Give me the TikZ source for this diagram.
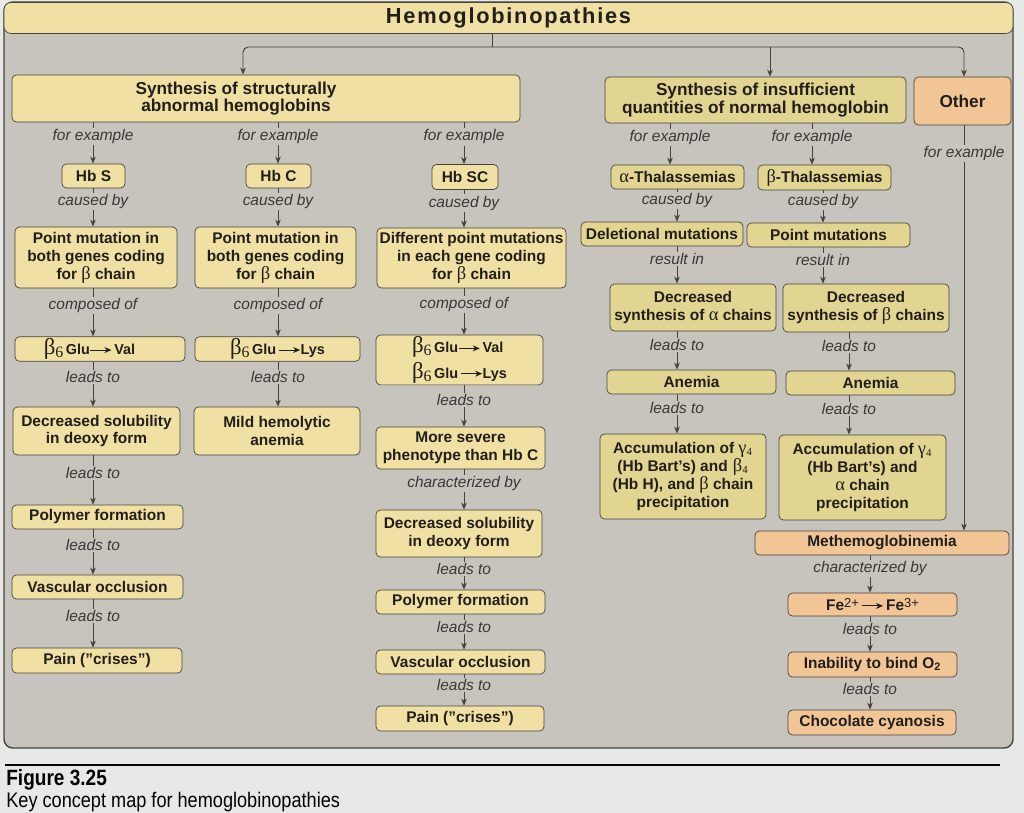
\documentclass[tikz,border=0pt]{standalone}
\usepackage{fontspec}
\setmainfont{Liberation Sans}
\newfontfamily\grk{Liberation Serif}
\newfontfamily\titlefont[LetterSpace=8]{Liberation Sans}
\newfontfamily\capfont[FakeStretch=0.86]{Liberation Sans}
\usetikzlibrary{arrows.meta,positioning}

\definecolor{outside}{RGB}{231,233,233}
\definecolor{panel}{RGB}{199,195,189}
\definecolor{ylw}{RGB}{241,224,163}
\definecolor{ylwb}{RGB}{226,213,146}
\definecolor{org}{RGB}{242,197,150}
\definecolor{edge}{RGB}{72,66,58}
\definecolor{ink}{RGB}{34,30,26}
\definecolor{lab}{RGB}{58,56,54}

% greek letters and small pieces of the box texts
\newcommand{\gk}[1]{{\grk\mdseries\fontsize{10.5}{10}\selectfont #1}}
\newcommand{\sm}{\fontsize{8.2}{9}\selectfont}
\newcommand{\dq}{\char34\relax}
\newcommand{\sq}{\char39\relax}
\newcommand{\ion}[1]{\raisebox{0.45ex}{\mdseries\fontsize{7.4}{8}\selectfont #1}}
\newcommand{\bsix}{{\grk\mdseries\fontsize{13}{12}\selectfont β}\raisebox{-0.35ex}{\grk\mdseries\fontsize{9}{9}\selectfont 6}}
\newcommand{\rarr}{\tikz[baseline=-0.6ex]\draw[line width=0.5pt,-{Stealth[length=4pt,width=3.4pt]}] (0pt,0pt) -- (12pt,0pt);}

\begin{document}
\begin{tikzpicture}[x=0.02cm,y=-0.02cm,>={Stealth[length=4pt,width=3.2pt,inset=1.2pt]},
  box/.style={draw=edge,rounded corners=2.5pt,fill=ylw,text=ink,align=center,inner sep=1pt,font=\bfseries\fontsize{8.8}{10.2}\selectfont},
  rbox/.style={box,fill=ylwb},
  obox/.style={box,fill=org},
  big/.style={font=\bfseries\fontsize{9.8}{9.8}\selectfont},
  sz/.style 2 args={minimum width=#1*0.02cm,minimum height=#2*0.02cm},
  lbl/.style={fill=panel,text=lab,inner sep=0.8pt,pos=0.35,font=\itshape\fontsize{8.8}{10}\selectfont},
  arr/.style={->,draw=edge,line width=0.55pt}]

\fill[outside] (0,0) rectangle (1024,813);
\useasboundingbox (0,0) rectangle (1024,813);
\draw[edge,line width=0.8pt,fill=panel,rounded corners=5pt] (4,2) rectangle (1013,748);

% title and the three branches
\node[box,sz={1009}{31},rounded corners=4pt,font=\titlefont\bfseries\fontsize{12.4}{12}\selectfont] (title) at (508.5,18) {Hemoglobinopathies};
\node[box,big,sz={508}{47},label={[big,draw=none,fill=none,text=ink,align=center,xshift=-30*0.02cm]center:Synthesis of structurally\\abnormal hemoglobins}] (sab) at (266,98.5) {};
\node[rbox,big,sz={301}{46}] (ins) at (755.5,100) {Synthesis of insufficient\\quantities of normal hemoglobin};
\node[obox,big,sz={97}{48}] (oth) at (962.5,101) {Other};

% structurally abnormal hemoglobins
\node[box,sz={63}{24}] (hbs) at (93.5,176) {Hb S};
\node[box,sz={65}{24}] (hbc) at (278.5,176) {Hb C};
\node[box,sz={66}{25}] (hbsc) at (465,177) {Hb SC};
\node[box,sz={162}{61}] (pm1) at (96,257.5) {Point mutation in\\both genes coding\\for \gk{β} chain};
\node[box,sz={161}{61}] (pm2) at (275.5,257.5) {Point mutation in\\both genes coding\\for \gk{β} chain};
\node[box,sz={189}{60}] (dpm) at (471.5,258) {Different point mutations\\in each gene coding\\for \gk{β} chain};
\node[box,sz={170}{24}] (gv1) at (100,349) {\bsix\,{\sm Glu\rarr\,Val}\hspace*{12pt}};
\node[box,sz={165}{24}] (gl2) at (277.5,349) {\bsix\,{\sm Glu\,\rarr Lys}};
\node[box,sz={167}{48},align=left] (gvl) at (459.5,360) {\bsix\,{\sm Glu\rarr\,Val}\\[1.5pt]\bsix\,{\sm Glu\,\rarr Lys}};
\node[box,sz={167}{48}] (ds1) at (96.5,431) {Decreased solubility\\in deoxy form};
\node[box,sz={166}{48}] (mha) at (277,431) {Mild hemolytic\\anemia};
\node[box,sz={169}{42}] (msp) at (460.5,448) {More severe\\phenotype than Hb C};
\node[box,sz={171}{24}] (pf1) at (97.5,517) {Polymer formation};
\node[box,sz={171}{24}] (vo1) at (97.5,587) {Vascular occlusion};
\node[box,sz={170}{25}] (pc1) at (97,660.5) {Pain (\dq crises\dq)};
\node[box,sz={166}{47}] (ds3) at (459,533.5) {Decreased solubility\\in deoxy form};
\node[box,sz={169}{24}] (pf3) at (460.5,602) {Polymer formation};
\node[box,sz={169}{24}] (vo3) at (460.5,662) {Vascular occlusion};
\node[box,sz={168}{25}] (pc3) at (460,718.5) {Pain (\dq crises\dq)};

% thalassemias
\node[rbox,sz={133}{24}] (athal) at (677.5,177) {\gk{α}-Thalassemias};
\node[rbox,sz={133}{25}] (bthal) at (824.5,177.5) {\gk{β}-Thalassemias};
\node[rbox,sz={162}{24}] (delm) at (662,234) {Deletional mutations};
\node[rbox,sz={163}{24}] (ptm) at (828.5,235) {Point mutations};
\node[rbox,sz={166}{47}] (dsa) at (693,307.5) {Decreased\\synthesis of \gk{α} chains};
\node[rbox,sz={166}{48}] (dsb) at (866,308) {Decreased\\synthesis of \gk{β} chains};
\node[rbox,sz={169}{24}] (an1) at (691.5,382) {Anemia};
\node[rbox,sz={169}{24}] (an2) at (870.5,383) {Anemia};
\node[rbox,sz={166}{85}] (acc1) at (683,476.5) {Accumulation of \gk{γ}\textsubscript{\grk\mdseries 4}\\(Hb Bart\sq s) and\,\,\gk{β}\textsubscript{\grk\mdseries 4}\\(Hb H), and \gk{β} chain\\precipitation};
\node[rbox,sz={167}{85}] (acc2) at (862.5,477.5) {Accumulation of \gk{γ}\textsubscript{\grk\mdseries 4}\\(Hb Bart\sq s) and\\\gk{α} chain\\precipitation};

% other
\node[obox,sz={254}{24}] (meth) at (882,543) {Methemoglobinemia};
\node[obox,sz={169}{23}] (fe) at (872.5,604.5) {Fe\ion{2+}\,\rarr\,Fe\ion{3+}};
\node[obox,sz={169}{25}] (inab) at (872.5,664.5) {Inability to bind O\textsubscript{2}};
\node[obox,sz={168}{25}] (choc) at (872,722.5) {Chocolate cyanosis};

% columns of the connectors
\coordinate (j) at (492,47);
\coordinate (t1) at (243,47);
\coordinate (t2) at (770,47);
\coordinate (t3) at (964,47);
\coordinate (c1) at (93,0);
\coordinate (c2) at (278,0);
\coordinate (c3) at (464,0);
\coordinate (fa) at (670,0);
\coordinate (ca) at (677,0);
\coordinate (fb) at (812,0);
\coordinate (cb) at (823,0);
\coordinate (cb2) at (849,0);
\coordinate (cm) at (870,0);

\draw[edge,line width=0.55pt] (title.south -| j) -- (j);
\draw[arr,rounded corners=3pt] (j) -| (sab.north -| t1);
\draw[arr,rounded corners=3pt] (j) -| (oth.north -| t3);
\draw[arr] (j -| t2) -- (ins.north -| t2);

\foreach \a/\b/\c/\t in {sab/hbs/c1/for example, hbs/pm1/c1/caused by, pm1/gv1/c1/composed of,
    gv1/ds1/c1/leads to, ds1/pf1/c1/leads to, pf1/vo1/c1/leads to, vo1/pc1/c1/leads to,
    sab/hbc/c2/for example, hbc/pm2/c2/caused by, pm2/gl2/c2/composed of, gl2/mha/c2/leads to,
    sab/hbsc/c3/for example, hbsc/dpm/c3/caused by, dpm/gvl/c3/composed of, gvl/msp/c3/leads to,
    msp/ds3/c3/characterized by, ds3/pf3/c3/leads to, pf3/vo3/c3/leads to, vo3/pc3/c3/leads to,
    ins/athal/fa/for example, athal/delm/ca/caused by, delm/dsa/ca/result in, dsa/an1/ca/leads to, an1/acc1/ca/leads to,
    ins/bthal/fb/for example, bthal/ptm/cb/caused by, ptm/dsb/cb/result in, dsb/an2/cb2/leads to, an2/acc2/cb2/leads to,
    meth/fe/cm/characterized by, fe/inab/cm/leads to, inab/choc/cm/leads to}
  \draw[arr] (\a.south -| \c) -- node[lbl]{\t} (\b.north -| \c);
\draw[arr] (oth.south -| t3) -- node[lbl,pos=0.07]{for example} (meth.north -| t3);

% caption
\draw[line width=1.4pt] (5,765) -- (1000,765);
\node[anchor=base west,inner sep=0,font=\capfont\bfseries\fontsize{12.6}{13}\selectfont] (fig) at (6,785) {Figure 3.25};
\node[anchor=base west,inner sep=0,font=\capfont\fontsize{12}{13}\selectfont] (cap) at (6,807) {Key concept map for hemoglobinopathies};
\end{tikzpicture}
\end{document}
